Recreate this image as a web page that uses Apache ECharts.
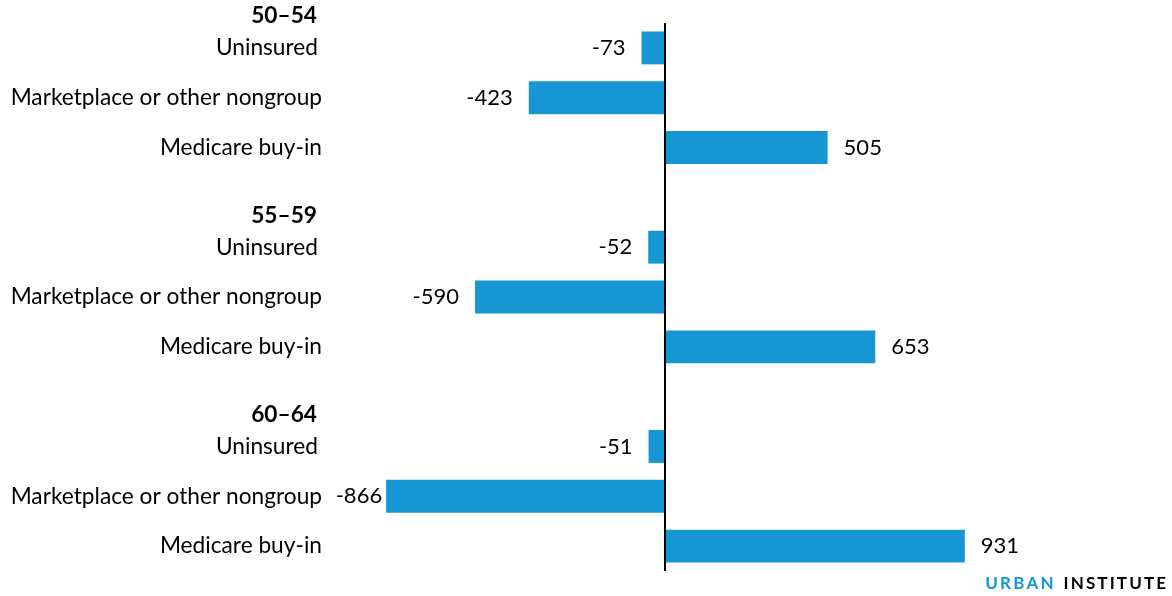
<!DOCTYPE html>
<html><head><meta charset="utf-8">
<script src="https://cdn.jsdelivr.net/npm/echarts@6/dist/echarts.min.js"></script>
<style>html,body{margin:0;padding:0;background:#fff}#c{width:1172px;height:596px}</style>
</head><body><div id="c"></div>
<script>
const categories = ['Uninsured', 'Marketplace or other nongroup', 'Medicare buy-in', '',
  'Uninsured', 'Marketplace or other nongroup', 'Medicare buy-in', '',
  'Uninsured', 'Marketplace or other nongroup', 'Medicare buy-in'];
const groupHeaders = ['50–54', null, null, null, '55–59', null, null, null, '60–64', null, null];
const values = [-73, -423, 505, null, -52, -590, 653, null, -51, -866, 931];

const FONT = 'Lato';
const FS = 22;
const CFS = 22.7;
const GRID_LEFT = 343, GRID_W = 805, XMIN = -1000, XMAX = 1500;
const ctx = document.createElement('canvas').getContext('2d');
ctx.font = FS + 'px ' + FONT;
function pxOf(v) { return GRID_LEFT + (v - XMIN) / (XMAX - XMIN) * GRID_W; }

const data = values.map(v => {
  if (v == null) return null;
  let dist = 16;
  if (v < 0) {
    const w = ctx.measureText(String(v)).width;
    const room = pxOf(v) - (GRID_LEFT - 7) - w;
    dist = Math.max(4, Math.min(16, room));
  }
  return { value: v, label: { position: v < 0 ? 'left' : 'right', distance: dist } };
});

const chart = echarts.init(document.getElementById('c'));
chart.setOption({
  animation: false,
  grid: { left: GRID_LEFT, width: GRID_W, top: 23, height: 548, containLabel: false },
  xAxis: { type: 'value', min: XMIN, max: XMAX, show: false },
  yAxis: {
    type: 'category', data: categories, inverse: true,
    axisLine: { show: false }, axisTick: { show: false }, splitLine: { show: false },
    axisLabel: {
      margin: 21, align: 'right', interval: 0, showMinLabel: true, showMaxLabel: true, hideOverlap: false,
      formatter: function (val, idx) {
        if (!val) return '';
        const h = groupHeaders[idx];
        if (h) return '{h|' + h + '}\n{u|' + val + '}\n{e| }';
        return '{n|' + val + '}';
      },
      rich: {
        h: { fontFamily: FONT, fontWeight: 'bold', fontSize: CFS, color: '#000', lineHeight: 32, align: 'right', padding: [0, 5, 0, 0] },
        u: { fontFamily: FONT, fontSize: CFS, color: '#000', lineHeight: 32, align: 'right', padding: [0, 4, 0, 0] },
        e: { fontFamily: FONT, fontSize: CFS, lineHeight: 32 },
        n: { fontFamily: FONT, fontSize: CFS, color: '#000' }
      }
    }
  },
  series: [{
    type: 'bar', data: data, barCategoryGap: '34%',
    itemStyle: { color: '#1696d2' },
    label: { show: true, fontFamily: FONT, fontSize: FS, color: '#000' },
    markLine: {
      symbol: 'none', silent: true, label: { show: false },
      lineStyle: { color: '#000', width: 2, type: 'solid' },
      data: [{ xAxis: 0 }]
    }
  }],
  graphic: [{
    type: 'text', right: 6, top: 575,
    style: {
      text: '{b|U\u2009R\u2009B\u2009A\u2009N}{k|I\u2009N\u2009S\u2009T\u2009I\u2009T\u2009U\u2009T\u2009E}',
      rich: {
        b: { fontFamily: FONT, fontWeight: 'bold', fontSize: 17, fill: '#1696d2' },
        k: { fontFamily: FONT, fontWeight: 'bold', fontSize: 17, fill: '#000', padding: [0, 0, 0, 10] }
      }
    }
  }]
});
</script></body></html>
